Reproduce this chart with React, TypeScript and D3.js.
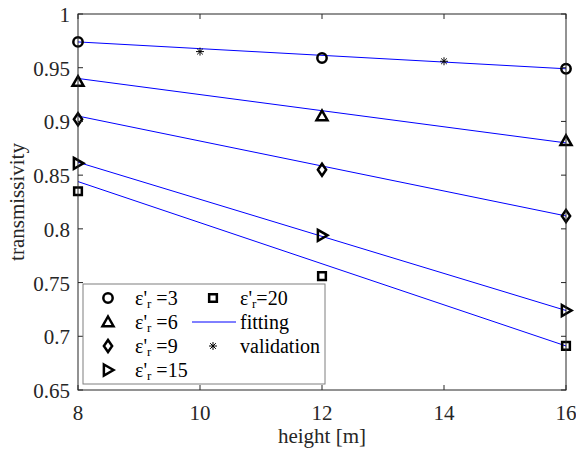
import React from "react";
import * as d3 from "d3";

const heights = [8, 12, 16];
const permittivities = ["3", "6", "9", "15", "20"];
const measured3 = [0.974, 0.959, 0.949];
const measured6 = [0.937, 0.905, 0.882];
const measured9 = [0.902, 0.855, 0.812];
const measured15 = [0.861, 0.794, 0.724];
const measured20 = [0.835, 0.756, 0.691];
const fitEnds = [8, 16];
const fit3 = [0.974, 0.949];
const fit6 = [0.940, 0.880];
const fit9 = [0.905, 0.812];
const fit15 = [0.862, 0.724];
const fit20 = [0.844, 0.691];
const validationX = [10, 14];
const validationY = [0.965, 0.956];
const xTicks = [8, 10, 12, 14, 16];
const yTicks = [0.65, 0.7, 0.75, 0.8, 0.85, 0.9, 0.95, 1];

const W = 576, H = 457;
const L = 78, R = 566, T = 14, B = 390;
const FONT = "Liberation Serif, Times New Roman, DejaVu Serif, serif";
const txt = { fontFamily: FONT, fontSize: "21px" } as React.CSSProperties;
const legTxt = { fontFamily: FONT, fontSize: "20px" } as React.CSSProperties;

function markerPath(kind: string, s: number): string {
  switch (kind) {
    case "circle": {
      const r = s * 0.85;
      return `M${-r},0A${r},${r} 0 1,0 ${r},0A${r},${r} 0 1,0 ${-r},0Z`;
    }
    case "triangle":
      return `M0,${-s}L${s},${s * 0.75}L${-s},${s * 0.75}Z`;
    case "diamond":
      return `M0,${-s * 1.1}L${s * 0.75},0L0,${s * 1.1}L${-s * 0.75},0Z`;
    case "right":
      return `M${-s * 0.75},${-s}L${s},0L${-s * 0.75},${s}Z`;
    case "square":
      return `M${-s * 0.7},${-s * 0.7}H${s * 0.7}V${s * 0.7}H${-s * 0.7}Z`;
  }
  return "";
}

function Star({ x, y }: { x: number; y: number }) {
  const s = 4;
  const lines = [0, 45, 90, 135].map((a) => {
    const r = (a * Math.PI) / 180;
    return (
      <line key={a} x1={x - s * Math.cos(r)} y1={y - s * Math.sin(r)} x2={x + s * Math.cos(r)} y2={y + s * Math.sin(r)} stroke="#000" strokeWidth={1} />
    );
  });
  return <g>{lines}</g>;
}

function Label({ x, y, value, space }: { x: number; y: number; value: string; space: boolean }) {
  return (
    <text x={x} y={y} style={legTxt} fill="#000">
      ε'
      <tspan style={{ fontSize: "13px" }} dy={3}>r</tspan>
      <tspan dy={-3}>{space ? " =" : "="}{value}</tspan>
    </text>
  );
}

export default function App() {
  const x = d3.scaleLinear().domain([8, 16]).range([L, R]);
  const y = d3.scaleLinear().domain([0.65, 1]).range([B, T]);
  const line = d3.line<[number, number]>().x((d) => x(d[0])).y((d) => y(d[1]));

  const series = [
    { kind: "circle", vals: measured3, fit: fit3 },
    { kind: "triangle", vals: measured6, fit: fit6 },
    { kind: "diamond", vals: measured9, fit: fit9 },
    { kind: "right", vals: measured15, fit: fit15 },
    { kind: "square", vals: measured20, fit: fit20 },
  ];

  const axisColor = "#262626";
  const legendRows = [298, 322, 346, 370];

  return (
    <svg width={W} height={H} style={{ position: "absolute", left: 0, top: 0, background: "#fff" }}>
      <rect x={0} y={0} width={W} height={H} fill="#fff" />
      {series.map((s, i) => (
        <path key={"f" + i} d={line(fitEnds.map((h, j) => [h, s.fit[j]]) as [number, number][]) || ""} fill="none" stroke="#0000ff" strokeWidth={1} />
      ))}
      {series.map((s, i) =>
        s.vals.map((v, j) => (
          <path key={"m" + i + "-" + j} d={markerPath(s.kind, 5.5)} transform={`translate(${x(heights[j])},${y(v)})`} fill="none" stroke="#000" strokeWidth={2.5} />
        ))
      )}
      {validationX.map((h, i) => (
        <Star key={"v" + i} x={x(h)} y={y(validationY[i])} />
      ))}
      <rect x={L} y={T} width={R - L} height={B - T} fill="none" stroke={axisColor} strokeWidth={1} />
      {xTicks.map((t) => (
        <g key={"xt" + t}>
          <line x1={x(t)} x2={x(t)} y1={B} y2={B - 5} stroke={axisColor} />
          <line x1={x(t)} x2={x(t)} y1={T} y2={T + 5} stroke={axisColor} />
          <text x={x(t)} y={B + 30} textAnchor="middle" style={txt} fill="#262626">{t}</text>
        </g>
      ))}
      {yTicks.map((t) => (
        <g key={"yt" + t}>
          <line x1={L} x2={L + 5} y1={y(t)} y2={y(t)} stroke={axisColor} />
          <line x1={R} x2={R - 5} y1={y(t)} y2={y(t)} stroke={axisColor} />
          <text x={L - 8} y={y(t) + 8} textAnchor="end" style={txt} fill="#262626">{d3.format("")(t)}</text>
        </g>
      ))}
      <text x={(L + R) / 2} y={443} textAnchor="middle" style={txt} fill="#262626">height [m]</text>
      <text transform={`translate(24,${(T + B) / 2}) rotate(-90)`} textAnchor="middle" style={txt} fill="#262626">transmissivity</text>
      <rect x={83} y={284} width={242} height={100} fill="#fff" stroke="#7f7f7f" strokeWidth={1} />
      {series.slice(0, 4).map((s, i) => (
        <g key={"l" + i}>
          <path d={markerPath(s.kind, 5.5)} transform={`translate(108,${legendRows[i]})`} fill="none" stroke="#000" strokeWidth={2.5} />
          <Label x={135} y={legendRows[i] + 7} value={permittivities[i]} space={true} />
        </g>
      ))}
      <path d={markerPath("square", 5.5)} transform={`translate(213,${legendRows[0]})`} fill="none" stroke="#000" strokeWidth={2.5} />
      <Label x={240} y={legendRows[0] + 7} value={permittivities[4]} space={false} />
      <line x1={192} x2={236} y1={legendRows[1]} y2={legendRows[1]} stroke="#0000ff" strokeWidth={1} />
      <text x={240} y={legendRows[1] + 7} style={legTxt} fill="#000">fitting</text>
      <Star x={213} y={legendRows[2]} />
      <text x={240} y={legendRows[2] + 7} style={legTxt} fill="#000">validation</text>
    </svg>
  );
}
